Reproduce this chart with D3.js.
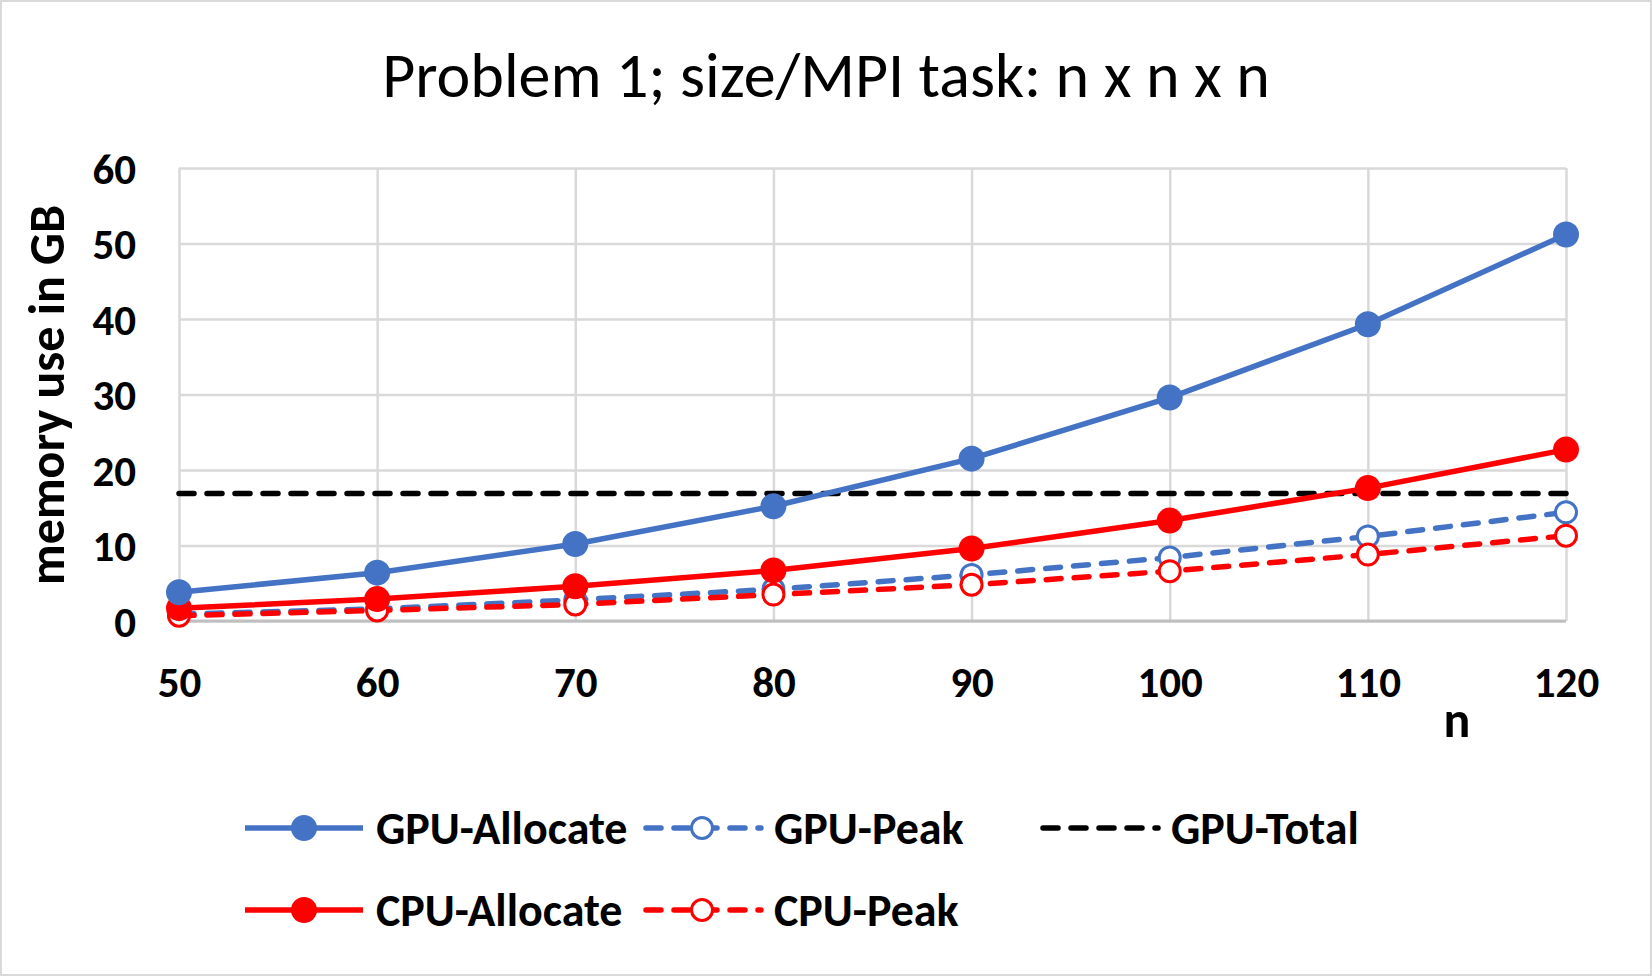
<!DOCTYPE html>
<html><head><meta charset="utf-8">
<script src="https://cdn.jsdelivr.net/npm/d3@7"></script>
<style>
body{margin:0;background:#fff;}
svg{display:block;font-family:Carlito,Lato,"Open Sans",sans-serif;}
</style></head>
<body>
<svg id="chart" width="1652" height="976"></svg>
<script>
const nValues = [50, 60, 70, 80, 90, 100, 110, 120];
const gpuAllocate = [3.8, 6.4, 10.2, 15.2, 21.5, 29.6, 39.3, 51.2];
const gpuPeak = [0.9, 1.6, 2.8, 4.2, 6.1, 8.4, 11.2, 14.4];
const cpuAllocate = [1.7, 2.9, 4.6, 6.7, 9.6, 13.3, 17.6, 22.7];
const cpuPeak = [0.7, 1.4, 2.2, 3.5, 4.8, 6.6, 8.8, 11.3];
const gpuTotal = [16.9, 16.9, 16.9, 16.9, 16.9, 16.9, 16.9, 16.9];
const yTicks = [0, 10, 20, 30, 40, 50, 60];
const xTicks = [50, 60, 70, 80, 90, 100, 110, 120];

const svg = d3.select("#chart");
const W = 1652, H = 976;
const m = {left:179, right:1566, top:168, bottom:621};
const x = d3.scaleLinear().domain([50,120]).range([m.left, m.right]);
const y = d3.scaleLinear().domain([0,60]).range([m.bottom, m.top]);
const FONT = "Carlito,Lato,'Open Sans',sans-serif";

svg.append("rect").attr("x",1).attr("y",1).attr("width",W-2).attr("height",H-2)
  .attr("fill","#fff").attr("stroke","#d9d9d9").attr("stroke-width",2);

// title
svg.append("text").attr("x",826).attr("y",97).attr("text-anchor","middle")
  .attr("font-size",64).attr("fill","#000").text("Problem 1; size/MPI task: n x n x n");

// grid
const gridColor = "#d9d9d9";
svg.append("g").attr("transform",`translate(0,${m.bottom})`)
  .call(d3.axisBottom(x).tickValues(xTicks).tickSize(-(m.bottom-m.top)).tickFormat(""))
  .call(g=>{g.select(".domain").remove(); g.selectAll("line").attr("stroke",gridColor).attr("stroke-width",2.5);});
svg.append("g").attr("transform",`translate(${m.left},0)`)
  .call(d3.axisLeft(y).tickValues(yTicks).tickSize(-(m.right-m.left)).tickFormat(""))
  .call(g=>{g.select(".domain").remove(); g.selectAll("line").attr("stroke",gridColor).attr("stroke-width",2.5);});
svg.append("line").attr("x1",m.left).attr("x2",m.right).attr("y1",m.bottom).attr("y2",m.bottom)
  .attr("stroke","#bfbfbf").attr("stroke-width",3);

// tick labels
const yAx = svg.append("g").attr("transform",`translate(${m.left-43},0)`)
  .call(d3.axisLeft(y).tickValues(yTicks).tickSize(0).tickPadding(0));
yAx.select(".domain").remove();
yAx.selectAll("text").attr("font-size",43).attr("font-weight","bold").attr("fill","#000")
  .attr("font-family",FONT).attr("dy","0.35em");
const xAx = svg.append("g").attr("transform",`translate(0,${m.bottom+45})`)
  .call(d3.axisBottom(x).tickValues(xTicks).tickSize(0).tickPadding(0));
xAx.select(".domain").remove();
xAx.selectAll("text").attr("font-size",43).attr("font-weight","bold").attr("fill","#000")
  .attr("font-family",FONT).attr("dy","0.71em");

// axis titles
svg.append("text").attr("x",1457).attr("y",737).attr("text-anchor","middle")
  .attr("font-size",50).attr("font-weight","bold").text("n");
svg.append("text").attr("transform","translate(64,395) rotate(-90)").attr("text-anchor","middle")
  .attr("font-size",50).attr("font-weight","bold").text("memory use in GB");

const BLUE = "#4472C4", RED = "#FF0000";
const DASH = "15,13";
const series = [
  {name:"GPU-Total", vals:gpuTotal, color:"#000", dash:DASH, marker:null},
  {name:"CPU-Peak", vals:cpuPeak, color:RED, dash:DASH, marker:"open"},
  {name:"GPU-Peak", vals:gpuPeak, color:BLUE, dash:DASH, marker:"open"},
  {name:"CPU-Allocate", vals:cpuAllocate, color:RED, dash:null, marker:"filled"},
  {name:"GPU-Allocate", vals:gpuAllocate, color:BLUE, dash:null, marker:"filled"}
];
const line = d3.line().x((d,i)=>x(nValues[i])).y(d=>y(d));
const drawOrder = ["GPU-Peak","CPU-Peak","GPU-Total","CPU-Allocate","GPU-Allocate"];
drawOrder.forEach(nm=>{
  const s = series.find(q=>q.name===nm);
  svg.append("path").datum(s.vals).attr("d",line).attr("fill","none")
    .attr("stroke",s.color).attr("stroke-width",5.5).attr("stroke-dasharray",s.dash)
    .attr("stroke-linecap",s.dash?"round":"butt");
  if(s.marker){
    svg.append("g").selectAll("circle").data(s.vals).join("circle")
      .attr("cx",(d,i)=>x(nValues[i])).attr("cy",d=>y(d))
      .attr("r",s.marker==="filled"?13:10.5)
      .attr("fill",s.marker==="filled"?s.color:"#fff")
      .attr("stroke",s.color).attr("stroke-width",s.marker==="filled"?0:3);
  }
});

// legend
const legendItems = [
  {name:"GPU-Allocate", color:BLUE, dash:null, marker:"filled", x:245, y:828},
  {name:"GPU-Peak", color:BLUE, dash:DASH, marker:"open", x:643, y:828},
  {name:"GPU-Total", color:"#000", dash:DASH, marker:null, x:1040, y:828},
  {name:"CPU-Allocate", color:RED, dash:null, marker:"filled", x:245, y:910},
  {name:"CPU-Peak", color:RED, dash:DASH, marker:"open", x:643, y:910}
];
legendItems.forEach(it=>{
  const g = svg.append("g");
  g.append("line").attr("x1",it.x+(it.dash?3:0)).attr("x2",it.x+118).attr("y1",it.y).attr("y2",it.y)
    .attr("stroke",it.color).attr("stroke-width",5.5).attr("stroke-dasharray",it.dash)
    .attr("stroke-linecap",it.dash?"round":"butt");
  if(it.marker){
    g.append("circle").attr("cx",it.x+59).attr("cy",it.y)
      .attr("r",it.marker==="filled"?13:10.5)
      .attr("fill",it.marker==="filled"?it.color:"#fff")
      .attr("stroke",it.color).attr("stroke-width",it.marker==="filled"?0:3);
  }
  g.append("text").attr("x",it.x+131).attr("y",it.y).attr("dy","0.35em")
    .attr("font-size",46).attr("font-weight","bold").attr("fill","#000").text(it.name);
});
</script>
</body></html>
